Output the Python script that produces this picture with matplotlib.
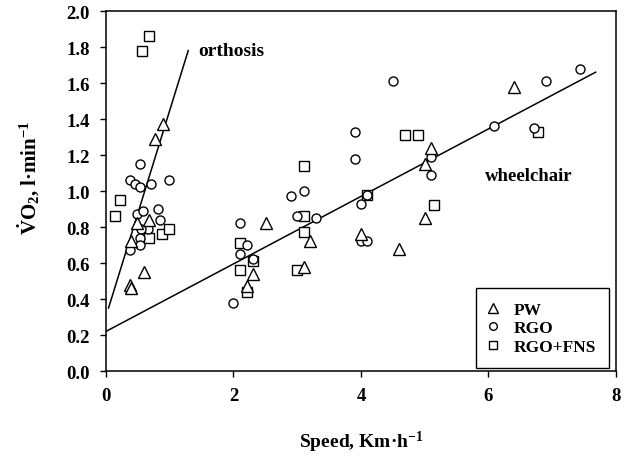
import matplotlib
matplotlib.use("Agg")
import matplotlib.pyplot as plt
from matplotlib.lines import Line2D

plt.rcParams['font.family'] = 'Liberation Serif'
plt.rcParams['font.weight'] = 'bold'
plt.rcParams['mathtext.fontset'] = 'custom'
plt.rcParams['mathtext.rm'] = 'Liberation Serif:bold'
plt.rcParams['mathtext.it'] = 'Liberation Serif:italic:bold'
plt.rcParams['mathtext.bf'] = 'Liberation Serif:bold'

# PW (triangles)
pw_speed = [0.77, 0.90, 0.49, 0.68, 0.40, 0.60, 0.37, 0.39,
            2.51, 2.30, 2.21, 3.20, 3.11,
            4.00, 4.60, 5.01, 5.01, 5.10, 6.40]
pw_vo2 = [1.29, 1.37, 0.82, 0.84, 0.72, 0.55, 0.48, 0.46,
          0.82, 0.54, 0.47, 0.72, 0.58,
          0.76, 0.68, 0.85, 1.15, 1.24, 1.58]

# RGO (circles)
rgo_speed = [0.54, 0.37, 0.46, 0.53, 0.70, 0.99, 0.49, 0.58, 0.82, 0.84, 0.66, 0.55, 0.54, 0.54, 0.37,
             2.10, 2.21, 2.10, 2.30, 2.00, 2.90, 3.10, 2.99, 3.30,
             4.50, 3.90, 3.90, 4.10, 4.00, 4.00, 4.10, 5.10, 5.10,
             6.09, 6.71, 6.90, 7.43]
rgo_vo2 = [1.15, 1.06, 1.04, 1.02, 1.04, 1.06, 0.87, 0.89, 0.90, 0.84, 0.79, 0.79, 0.74, 0.70, 0.67,
           0.82, 0.70, 0.65, 0.62, 0.38, 0.97, 1.00, 0.86, 0.85,
           1.61, 1.33, 1.18, 0.98, 0.93, 0.72, 0.72, 1.19, 1.09,
           1.36, 1.35, 1.61, 1.68]

# RGO+FNS (squares)
fns_speed = [0.68, 0.57, 0.22, 0.14, 0.68, 0.88, 0.99,
             2.10, 2.30, 2.10, 2.21, 3.11, 3.10, 3.10, 2.99,
             4.69, 4.89, 4.10, 5.14, 6.78]
fns_vo2 = [1.86, 1.78, 0.95, 0.86, 0.74, 0.76, 0.79,
           0.71, 0.61, 0.56, 0.44, 1.14, 0.86, 0.77, 0.56,
           1.31, 1.31, 0.98, 0.92, 1.33]

# regression lines (end points)
orthosis_x = [0.04, 1.29]
orthosis_y = [0.35, 1.78]
wheelchair_x = [0.0, 7.68]
wheelchair_y = [0.22, 1.66]

fig = plt.figure(figsize=(6.29, 4.60), dpi=100)
ax = fig.add_axes([0.1685, 0.1913, 0.8108, 0.7826])

ax.plot(orthosis_x, orthosis_y, color='black', lw=1.1, zorder=1)
ax.plot(wheelchair_x, wheelchair_y, color='black', lw=1.1, zorder=1)

mk = dict(linestyle='none', markerfacecolor='white', markeredgecolor='black',
          markeredgewidth=1.0, zorder=3)
ax.plot(fns_speed, fns_vo2, marker='s', markersize=7, **mk)
ax.plot(rgo_speed, rgo_vo2, marker='o', markersize=6.5, **mk)
ax.plot(pw_speed, pw_vo2, marker='^', markersize=8.5, **mk)

ax.text(1.44, 1.78, 'orthosis', fontsize=14, fontweight='bold', va='center', ha='left')
ax.text(5.95, 1.085, 'wheelchair', fontsize=13.5, fontweight='bold', va='center', ha='left')

ax.set_xlim(0, 8)
ax.set_ylim(0, 2.0)
ax.set_xticks([0, 2, 4, 6, 8])
ax.set_yticks([0.0, 0.2, 0.4, 0.6, 0.8, 1.0, 1.2, 1.4, 1.6, 1.8, 2.0])
ax.set_yticklabels(['%.1f' % v for v in ax.get_yticks()])
ax.tick_params(direction='out', length=4.5, width=1.0, labelsize=13.5, pad=7)
for lab in ax.get_xticklabels() + ax.get_yticklabels():
    lab.set_fontweight('bold')
for s in ax.spines.values():
    s.set_linewidth(1.1)

ax.set_xlabel('Speed, Km·h$^{-1}$', fontsize=14, fontweight='bold')
ax.xaxis.set_label_coords(0.5, -0.16)
ax.set_ylabel(r'$\dot{\mathrm{V}}\mathrm{O}_2$, l·min$^{-1}$', fontsize=15, fontweight='bold')
ax.yaxis.set_label_coords(-0.125, 0.54)

handles = [
    Line2D([], [], marker='^', markersize=7, **mk),
    Line2D([], [], marker='o', markersize=5.5, **mk),
    Line2D([], [], marker='s', markersize=6, **mk),
]
leg = ax.legend(handles, ['PW', 'RGO', 'RGO+FNS'], loc='lower right',
                bbox_to_anchor=(0.986, 0.008), borderaxespad=0,
                prop={'family': 'Liberation Serif', 'weight': 'bold', 'size': 12.5},
                frameon=True, fancybox=False, edgecolor='black', framealpha=1,
                handlelength=0.5, handletextpad=0.9,
                labelspacing=0.15, borderpad=0.75)
leg.get_frame().set_linewidth(1.0)

fig.savefig('out.png', dpi=100)
